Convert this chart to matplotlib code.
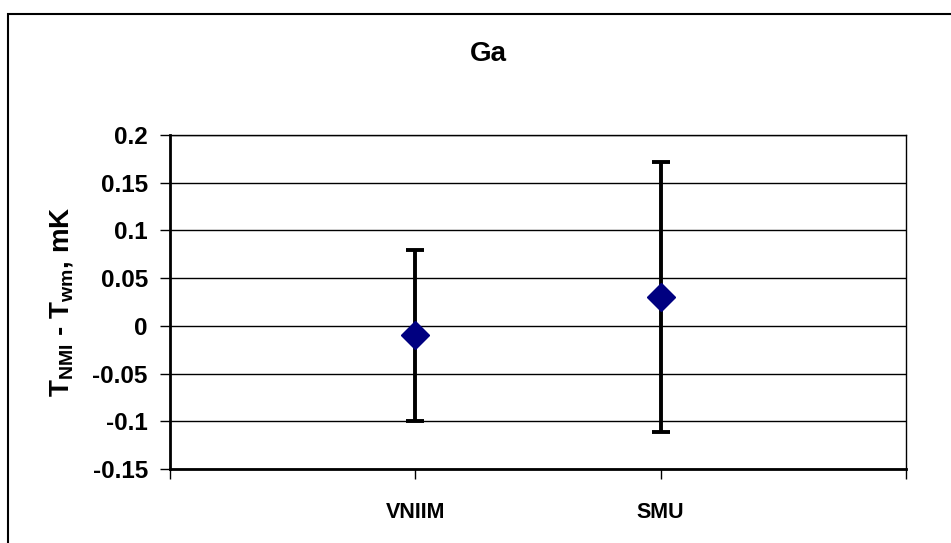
import matplotlib.pyplot as plt
from matplotlib.patches import Rectangle

# data
labs = ["VNIIM", "SMU"]
pos = [1, 2]
vals = [-0.01, 0.03]
err_lo = [0.09, 0.141]
err_hi = [0.09, 0.142]
yticks = [-0.15, -0.1, -0.05, 0, 0.05, 0.1, 0.15, 0.2]
ytick_labels = ["-0.15", "-0.1", "-0.05", "0", "0.05", "0.1", "0.15", "0.2"]

plt.rcParams["font.family"] = ["Liberation Sans", "DejaVu Sans"]
plt.rcParams["font.weight"] = "bold"
plt.rcParams["mathtext.fontset"] = "custom"
plt.rcParams["mathtext.rm"] = "Liberation Sans:bold"
plt.rcParams["mathtext.bf"] = "Liberation Sans:bold"

fig = plt.figure(figsize=(9.51, 5.43), dpi=100)
ax = fig.add_axes([170 / 951, 1 - 469 / 543, 736 / 951, 334 / 543])

ax.errorbar(pos, vals, yerr=[err_lo, err_hi], fmt="D", color="#000080",
            ms=14.5, ecolor="black", elinewidth=2.8, capsize=6.5, capthick=2.8,
            zorder=3)

ax.set_xlim(0, 3)
ax.set_ylim(-0.15, 0.2)
ax.set_xticks([0, 1, 2, 3])
ax.set_xticklabels(["", labs[0], labs[1], ""])
ax.set_yticks(yticks)
ax.set_yticklabels(ytick_labels)
ax.yaxis.grid(True, color="black", lw=1)
ax.set_axisbelow(True)
ax.tick_params(axis="both", direction="out", length=7, width=1, color="black")
ax.tick_params(axis="y", labelsize=17.5, pad=9)
ax.tick_params(axis="x", labelsize=15.5, pad=17)
for lbl in ax.get_xticklabels() + ax.get_yticklabels():
    lbl.set_fontweight("bold")
for s in ax.spines.values():
    s.set_color("black")
    s.set_linewidth(1)
ax.spines["bottom"].set_linewidth(2)
ax.spines["left"].set_linewidth(2)

ax.set_ylabel(r"T$_{\mathregular{NMI}}$ - T$_{\mathregular{wm}}$, mK",
              fontsize=20, fontweight="bold", labelpad=12)
fig.text(488 / 951, 1 - 54 / 543, "Ga", ha="center", va="center",
         fontsize=20, fontweight="bold")

fig.patches.append(Rectangle((8 / 951, -0.05), 1.0, 1 - 14 / 543 + 0.05,
                             transform=fig.transFigure, fill=False,
                             edgecolor="black", lw=1.5))

fig.savefig("out.png", dpi=100)
